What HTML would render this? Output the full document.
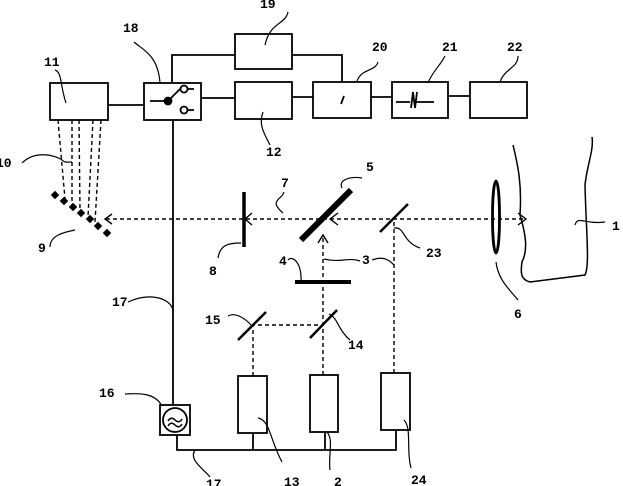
<!DOCTYPE html>
<html><head><meta charset="utf-8"><style>
body{margin:0;background:#fff}
svg{display:block}
text{font-family:"Liberation Mono",monospace;font-size:13px;font-weight:bold;fill:#000}
</style></head><body>
<svg width="623" height="486" viewBox="0 0 623 486" xmlns="http://www.w3.org/2000/svg">
<g fill="none" stroke="#000" stroke-width="1.8">
<rect x="50" y="83" width="58" height="37"/>
<rect x="144" y="83" width="57" height="37"/>
<rect x="235" y="34" width="57" height="35"/>
<rect x="235" y="82" width="57" height="37"/>
<rect x="313" y="82" width="58" height="36"/>
<rect x="392" y="82" width="56" height="36"/>
<rect x="470" y="82" width="57" height="36"/>
<rect x="238" y="376" width="29" height="57"/>
<rect x="310" y="375" width="28" height="57"/>
<rect x="381" y="373" width="29" height="57"/>
<rect x="160" y="405" width="30" height="30"/>
<circle cx="175" cy="420" r="12"/>
<path d="M168 421 q3-5 7-1 t7-1 M168 426 q3-5 7-1 t7-1" stroke-width="1.5"/>
<!-- wires -->
<path d="M108 105H144 M201 98H235 M292 97H313 M371 97H392 M448 96H470"/>
<path d="M172 83V55H235 M292 55H342V82"/>
<path d="M173 120V405 M177 435V450H396V430 M253 433V450 M325 432V450"/>
<!-- switch -->
<path d="M150 101H168 L180 89 M188 89H194 M188 110H194"/>
<circle cx="184" cy="89" r="3.5" fill="#fff"/><circle cx="184" cy="110" r="3.5" fill="#fff"/>
<circle cx="168" cy="101" r="3.5" fill="#000"/>
<path d="M341 104L344 96"/>
<path d="M396 102H410M414 102H434 M411 108L413 92L415 108L417 92"/>
<!-- dashed beams -->
<g stroke-dasharray="4,3" stroke-width="1.4">
<path d="M106 219H523"/>
<path d="M253 376V325H323 M323 375V236 M394 373V219"/>
<path d="M58 120L65 199 M72 120L72 205 M79 120L80 211 M93 120L88 217 M101 120L95 222"/>
</g>
<path d="M112 214L105 219L112 224 M252 213L245 219L252 225 M338 213L330 219L338 225 M518 213L526 219L518 225 M318 243L323 235L328 243" stroke-width="1.4"/>
<!-- optics -->
<path d="M301 240L351 190" stroke-width="6"/>
<path d="M244 192V247" stroke-width="3.5"/>
<path d="M295 282H351" stroke-width="4"/>
<path d="M380 232L408 204 M238 340L266 312 M310 338L337 310" stroke-width="2.5"/>
<ellipse cx="496" cy="217" rx="3.5" ry="36" stroke-width="2.8"/>
<!-- object 1 -->
<path d="M513 145C518 165 522 185 520 215C526 235 528 250 522 262C520 275 522 280 530 282L585 275C590 265 586 230 585 185C587 165 594 150 592 137" stroke-width="1.5"/>
<!-- leader lines -->
<g stroke-width="1.2">
<path d="M55 70C62 72 60 85 66 103"/>
<path d="M134 42C143 50 158 55 160 83"/>
<path d="M288 12C285 25 270 22 265 45"/>
<path d="M378 62C375 72 362 68 357 81"/>
<path d="M445 56C440 66 432 72 428 83"/>
<path d="M518 56C518 68 505 68 500 82"/>
<path d="M270 145C265 135 258 125 263 112"/>
<path d="M22 163C35 150 55 155 62 160C65 163 68 162 72 162"/>
<path d="M50 247C50 235 65 232 75 230"/>
<path d="M283 213C268 200 282 200 284 192"/>
<path d="M342 188C338 180 350 176 362 178"/>
<path d="M218 258C220 245 228 243 241 243"/>
<path d="M288 260C292 255 302 262 301 282"/>
<path d="M324 259C340 263 348 257 360 261 M372 260C385 255 391 262 394 265"/>
<path d="M394 228C405 226 402 242 420 248"/>
<path d="M496 262C498 280 510 290 518 300"/>
<path d="M575 225C578 215 585 225 605 222"/>
<path d="M128 302C150 292 170 298 173 310"/>
<path d="M228 316C235 312 245 318 252 326"/>
<path d="M329 314C338 318 338 330 350 340"/>
<path d="M125 394C140 393 155 393 162 406"/>
<path d="M195 450C188 460 205 470 210 477"/>
<path d="M258 418C270 420 270 440 282 462"/>
<path d="M327 432C334 440 328 455 330 470"/>
<path d="M404 420C412 428 406 450 411 468"/>
</g>
</g>
<!-- dots 9 -->
<g fill="#000">
<rect x="52" y="192" width="6" height="6" transform="rotate(45 55 195)"/>
<rect x="61" y="198" width="6" height="6" transform="rotate(45 64 201)"/>
<rect x="70" y="204" width="6" height="6" transform="rotate(45 73 207)"/>
<rect x="78" y="210" width="6" height="6" transform="rotate(45 81 213)"/>
<rect x="87" y="216" width="6" height="6" transform="rotate(45 90 219)"/>
<rect x="95" y="223" width="6" height="6" transform="rotate(45 98 226)"/>
<rect x="104" y="230" width="6" height="6" transform="rotate(45 107 233)"/>
</g>
<text x="44" y="66">11</text>
<text x="123" y="32">18</text>
<text x="260" y="8">19</text>
<text x="372" y="51">20</text>
<text x="442" y="51">21</text>
<text x="507" y="51">22</text>
<text x="266" y="156">12</text>
<text x="-4" y="167">10</text>
<text x="38" y="252">9</text>
<text x="281" y="187">7</text>
<text x="366" y="171">5</text>
<text x="209" y="275">8</text>
<text x="279" y="265">4</text>
<text x="362" y="264">3</text>
<text x="426" y="257">23</text>
<text x="514" y="318">6</text>
<text x="612" y="230">1</text>
<text x="112" y="306">17</text>
<text x="205" y="324">15</text>
<text x="348" y="349">14</text>
<text x="99" y="397">16</text>
<text x="206" y="488">17</text>
<text x="284" y="486">13</text>
<text x="334" y="486">2</text>
<text x="411" y="484">24</text>
</svg>
</body></html>
